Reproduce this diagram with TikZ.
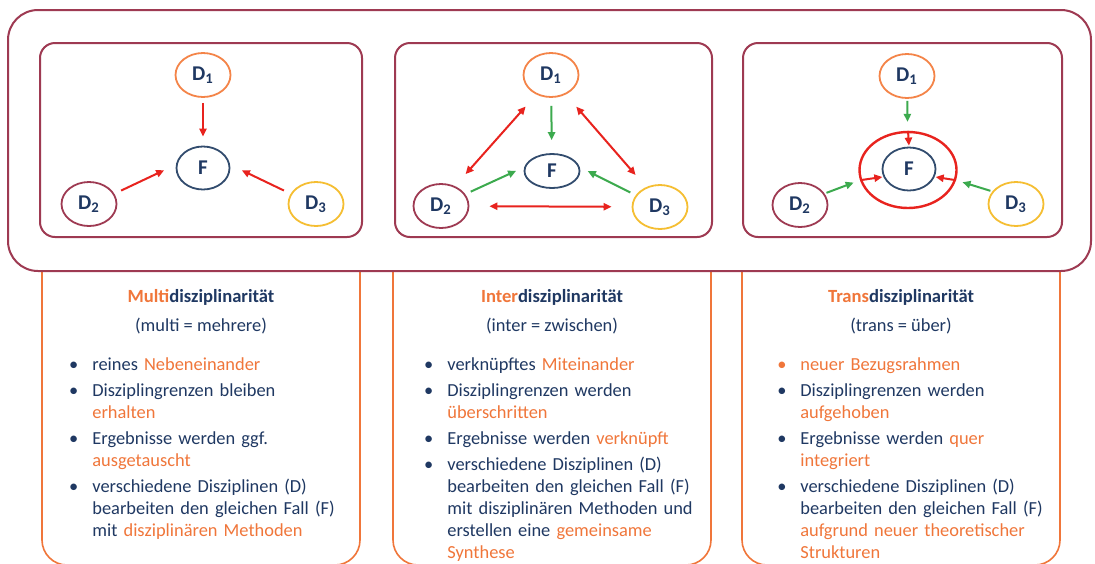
\documentclass[tikz,border=0pt]{standalone}
\usepackage{fontspec}
\setmainfont{Carlito}
\usetikzlibrary{shapes.geometric,arrows.meta}

\definecolor{discmaroon}{RGB}{158,58,82}
\definecolor{discorange}{RGB}{240,118,58}
\definecolor{discpeach}{RGB}{244,132,72}
\definecolor{discyellow}{RGB}{245,190,50}
\definecolor{discnavy}{RGB}{31,56,98}
\definecolor{discfall}{RGB}{50,76,110}
\definecolor{discred}{RGB}{232,35,30}
\definecolor{discgreen}{RGB}{60,170,78}

\newcommand{\hl}[1]{\textcolor{discorange}{#1}}
\newenvironment{disclist}{\begin{list}{\textbullet}{%
	\setlength{\leftmargin}{10pt}\setlength{\labelsep}{7pt}%
	\setlength{\labelwidth}{6pt}\setlength{\itemindent}{0pt}%
	\setlength{\itemsep}{2pt}\setlength{\parsep}{0pt}%
	\setlength{\topsep}{0pt}\setlength{\partopsep}{0pt}}}{\end{list}}

\tikzset{
	disc/.style={ellipse,draw,line width=0.9pt,minimum width=27.5pt,minimum height=22pt,inner sep=0pt,
		text=discnavy,font=\fontsize{10.5}{10.5}\selectfont\bfseries},
	case/.style={disc,draw=discfall,minimum width=26.5pt,minimum height=21.5pt},
	frame/.style={draw=discmaroon,line width=1pt},
	lowbox/.style={draw=discorange,line width=0.8pt,rounded corners=12.5pt},
	tip/.style={-{Triangle[length=4pt,width=3.6pt]}},
	redarr/.style={draw=discred,line width=1pt,tip},
	twoarr/.style={draw=discred,line width=1pt,{Triangle[length=4pt,width=3.6pt]}-{Triangle[length=4pt,width=3.6pt]}},
	greenarr/.style={draw=discgreen,line width=1pt,tip},
	headline/.style={anchor=base,text=discnavy,font=\fontsize{9.3}{11}\selectfont\bfseries},
	subline/.style={anchor=base,text=discnavy,font=\fontsize{9.2}{11}\selectfont},
	itemtext/.style={anchor=north west,inner sep=0pt,text width=140pt,align=left,
		text=discnavy,font=\fontsize{9.2}{11}\selectfont}
}

\begin{document}
\begin{tikzpicture}[x=0.5pt,y=-0.5pt]
	\clip (0,0) rectangle (1095,563);
	\fill[white] (0,0) rectangle (1095,563);

	% lower text boxes
	\draw[lowbox] (42,271) -- (42,565) -- (360,565) -- (360,271);
	\draw[lowbox] (393,271) -- (393,565) -- (711,565) -- (711,271);
	\draw[lowbox] (742,271) -- (742,565) -- (1060,565) -- (1060,271);

	% frames
	\draw[frame,rounded corners=15pt] (8,10) rectangle (1091,271);
	\draw[frame,rounded corners=7.5pt] (40,43) rectangle (362,237);
	\draw[frame,rounded corners=7.5pt] (395,43) rectangle (712,237);
	\draw[frame,rounded corners=7.5pt] (743,43) rectangle (1062,237);

	% Multi
	\node[disc,draw=discpeach] (d1m) at (203,75) {D\textsubscript{1}};
	\node[case] (fm) at (203,168) {F};
	\node[disc,draw=discmaroon] (d2m) at (89,204) {D\textsubscript{2}};
	\node[disc,draw=discyellow] (d3m) at (316,204) {D\textsubscript{3}};
	\draw[redarr,shorten <=2.5pt,shorten >=4.5pt] (d1m) -- (fm);
	\draw[redarr,shorten <=3.7pt,shorten >=6.5pt] (d2m.22) -- (fm.173);
	\draw[redarr,shorten <=3.7pt,shorten >=6.5pt] (d3m.158) -- (fm.7);

	% Inter
	\node[disc,draw=discpeach] (d1i) at (551,75) {D\textsubscript{1}};
	\node[case,minimum width=27.5pt,minimum height=17pt] (fi) at (552,171) {F};
	\node[disc,draw=discmaroon] (d2i) at (441,206) {D\textsubscript{2}};
	\node[disc,draw=discyellow] (d3i) at (660,207) {D\textsubscript{3}};
	\draw[twoarr,shorten <=8pt,shorten >=8pt] (d1i.233) -- (d2i.55);
	\draw[twoarr,shorten <=8pt,shorten >=8pt] (d1i.307) -- (d3i.125);
	\draw[twoarr,shorten <=10pt,shorten >=10pt] (d2i) -- (d3i);
	\draw[greenarr,shorten <=4pt,shorten >=6.5pt] (d1i) -- (fi);
	\draw[greenarr,shorten <=3pt,shorten >=4.5pt] (d2i.26) -- (fi.172);
	\draw[greenarr,shorten <=3pt,shorten >=4.5pt] (d3i.154) -- (fi.8);

	% Trans
	\node[disc,draw=discpeach] (d1t) at (907,76) {D\textsubscript{1}};
	\node[ellipse,draw=discred,line width=1.2pt,minimum width=48.5pt,minimum height=38pt] (ring) at (908,170) {};
	\node[case] (ft) at (909,169) {F};
	\node[disc,draw=discmaroon] (d2t) at (800,205) {D\textsubscript{2}};
	\node[disc,draw=discyellow] (d3t) at (1016,204) {D\textsubscript{3}};
	\draw[greenarr,shorten <=1pt,shorten >=4.5pt] (d1t) -- (ring);
	\draw[greenarr,shorten <=1pt,shorten >=3.4pt] (d2t.25) -- (ring.192);
	\draw[greenarr,shorten <=1pt,shorten >=3.4pt] (d3t.152) -- (ring.348);
	\draw[redarr,shorten >=0.5pt] (ring.north) -- (ft.north);
	\draw[redarr,shorten >=0.5pt] (ring.192) -- (ft.197);
	\draw[redarr,shorten >=0.5pt] (ring.348) -- (ft.343);

	% texts
	\node[headline] (hm) at (201,302) {\hl{Multi}disziplinarität};
	\node[subline] (sm) at (201,331) {(multi = mehrere)};
	\node[itemtext] (lm) at (72,348) {\begin{disclist}
		\item reines \hl{Nebeneinander}
		\item Disziplingrenzen bleiben\newline \hl{erhalten}
		\item Ergebnisse werden ggf.\newline \hl{ausgetauscht}
		\item verschiedene Disziplinen (D)\newline bearbeiten den gleichen Fall (F)\newline mit \hl{disziplinären Methoden}
	\end{disclist}};

	\node[headline] (hi) at (552,302) {\hl{Inter}disziplinarität};
	\node[subline] (si) at (552,331) {(inter = zwischen)};
	\node[itemtext] (li) at (427,348) {\begin{disclist}
		\item verknüpftes \hl{Miteinander}
		\item Disziplingrenzen werden\newline \hl{überschritten}
		\item Ergebnisse werden \hl{verknüpft}
		\item verschiedene Disziplinen (D)\newline bearbeiten den gleichen Fall (F)\newline mit disziplinären Methoden und\newline erstellen eine \hl{gemeinsame}\newline \hl{Synthese}
	\end{disclist}};

	\node[headline] (ht) at (901,302) {\hl{Trans}disziplinarität};
	\node[subline] (st) at (901,331) {(trans = über)};
	\node[itemtext] (lt) at (780,348) {\begin{disclist}
		\item[\hl{\textbullet}] \hl{neuer Bezugsrahmen}
		\item Disziplingrenzen werden\newline \hl{aufgehoben}
		\item Ergebnisse werden \hl{quer}\newline \hl{integriert}
		\item verschiedene Disziplinen (D)\newline bearbeiten den gleichen Fall (F)\newline \hl{aufgrund neuer theoretischer}\newline \hl{Strukturen}
	\end{disclist}};
\end{tikzpicture}
\end{document}
